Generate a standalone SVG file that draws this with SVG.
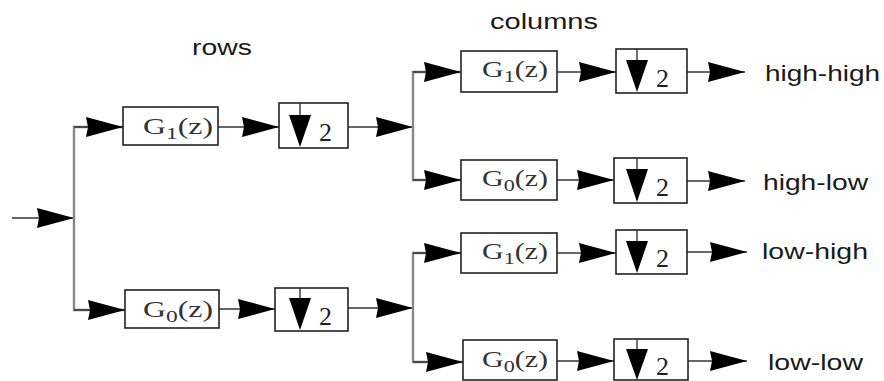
<svg xmlns="http://www.w3.org/2000/svg" width="884" height="381" viewBox="0 0 884 381">
<defs>
<style>
.box{fill:#fff;stroke:#222;stroke-width:1.6}
.ln{fill:none;stroke:#333;stroke-width:1.4}
.vl{fill:none;stroke:#888;stroke-width:2.4}
.head{fill:#000}
.g{font-family:"Liberation Serif","Times New Roman",serif;font-size:23px;fill:#333}
.two{font-family:"Liberation Serif","Times New Roman",serif;font-size:26px;fill:#222}
.lab{font-family:"Liberation Sans",Arial,sans-serif;font-size:22px;fill:#1a1a1a}
</style>
<marker id="ah" markerUnits="userSpaceOnUse" markerWidth="38" markerHeight="22" refX="37" refY="11" orient="auto">
<path class="head" d="M0,1 L37,11 L0,21 L2,11 z"/>
</marker>
</defs>
<rect width="884" height="381" fill="#fff"/>

<g id="labels">
<text class="lab" x="192" y="55" textLength="60" lengthAdjust="spacingAndGlyphs">rows</text>
<text class="lab" x="490" y="29" textLength="108" lengthAdjust="spacingAndGlyphs">columns</text>
</g>

<g id="connectors">
<line class="ln" x1="12" y1="218" x2="74" y2="218" marker-end="url(#ah)"/>
<polyline class="vl" points="123,127 74,127 74,310 125,310"/>
<line class="ln" x1="74" y1="127" x2="123" y2="127" marker-end="url(#ah)"/>
<line class="ln" x1="74" y1="310" x2="125" y2="310" marker-end="url(#ah)"/>
<line class="ln" x1="218" y1="127" x2="279" y2="127" marker-end="url(#ah)"/>
<line class="ln" x1="219" y1="309" x2="275" y2="309" marker-end="url(#ah)"/>
<line class="ln" x1="348" y1="127" x2="413" y2="127" marker-end="url(#ah)"/>
<line class="ln" x1="348" y1="308" x2="413" y2="308" marker-end="url(#ah)"/>
<polyline class="vl" points="461,72 413,72 413,180 461,180"/>
<polyline class="vl" points="461,253 413,253 413,362 463,362"/>
<line class="ln" x1="413" y1="72" x2="461" y2="72" marker-end="url(#ah)"/>
<line class="ln" x1="413" y1="180" x2="461" y2="180" marker-end="url(#ah)"/>
<line class="ln" x1="413" y1="253" x2="461" y2="253" marker-end="url(#ah)"/>
<line class="ln" x1="413" y1="362" x2="463" y2="362" marker-end="url(#ah)"/>
<line class="ln" x1="557" y1="72" x2="616" y2="72" marker-end="url(#ah)"/>
<line class="ln" x1="557" y1="180" x2="614" y2="180" marker-end="url(#ah)"/>
<line class="ln" x1="557" y1="253" x2="616" y2="253" marker-end="url(#ah)" stroke="#bbb"/>
<line class="ln" x1="557" y1="361" x2="614" y2="361" marker-end="url(#ah)"/>
<line class="ln" x1="687" y1="72" x2="745" y2="72" marker-end="url(#ah)"/>
<line class="ln" x1="687" y1="181" x2="745" y2="181" marker-end="url(#ah)"/>
<line class="ln" x1="687" y1="252" x2="747" y2="252" marker-end="url(#ah)"/>
<line class="ln" x1="688" y1="361" x2="747" y2="361" marker-end="url(#ah)"/>
</g>

<g id="row_g1">
<rect class="box" x="123" y="107" width="95" height="38"/>
<text class="g" x="143" y="134" textLength="70" lengthAdjust="spacingAndGlyphs">G<tspan font-size="17" dy="5">1</tspan><tspan dy="-5">(z)</tspan></text>
</g>
<g id="row_ds1">
<rect class="box" x="279" y="103" width="69" height="45"/>
<line class="ln" x1="300" y1="103" x2="300" y2="116"/>
<polygon class="head" points="289,115 311,115 300,147"/>
<text class="two" x="319" y="141">2</text>
</g>
<g id="row_g0">
<rect class="box" x="125" y="290" width="94" height="38"/>
<text class="g" x="143" y="317" textLength="70" lengthAdjust="spacingAndGlyphs">G<tspan font-size="17" dy="5">0</tspan><tspan dy="-5">(z)</tspan></text>
</g>
<g id="row_ds0">
<rect class="box" x="275" y="288" width="73" height="43"/>
<line class="ln" x1="300" y1="288" x2="300" y2="300"/>
<polygon class="head" points="289,298 311,298 300,330"/>
<text class="two" x="319" y="325">2</text>
</g>

<g id="hh_g1">
<rect class="box" x="461" y="51" width="96" height="41"/>
<text class="g" x="482" y="77" textLength="66" lengthAdjust="spacingAndGlyphs">G<tspan font-size="17" dy="5">1</tspan><tspan dy="-5">(z)</tspan></text>
</g>
<g id="hh_ds">
<rect class="box" x="616" y="49" width="71" height="44"/>
<line class="ln" x1="637" y1="49" x2="637" y2="62"/>
<polygon class="head" points="626,60 648,60 637,92"/>
<text class="two" x="656" y="87">2</text>
</g>
<text class="lab" x="765" y="81" textLength="115" lengthAdjust="spacingAndGlyphs">high-high</text>

<g id="hl_g0">
<rect class="box" x="461" y="160" width="96" height="40"/>
<text class="g" x="482" y="186" textLength="66" lengthAdjust="spacingAndGlyphs">G<tspan font-size="17" dy="5">0</tspan><tspan dy="-5">(z)</tspan></text>
</g>
<g id="hl_ds">
<rect class="box" x="614" y="158" width="73" height="45"/>
<line class="ln" x1="637" y1="158" x2="637" y2="171"/>
<polygon class="head" points="626,169 648,169 637,202"/>
<text class="two" x="656" y="196">2</text>
</g>
<text class="lab" x="763" y="190" textLength="105" lengthAdjust="spacingAndGlyphs">high-low</text>

<g id="lh_g1">
<rect class="box" x="461" y="233" width="96" height="40"/>
<text class="g" x="482" y="259" textLength="66" lengthAdjust="spacingAndGlyphs">G<tspan font-size="17" dy="5">1</tspan><tspan dy="-5">(z)</tspan></text>
</g>
<g id="lh_ds">
<rect class="box" x="616" y="230" width="71" height="44"/>
<line class="ln" x1="637" y1="230" x2="637" y2="243"/>
<polygon class="head" points="626,241 648,241 637,273"/>
<text class="two" x="656" y="267">2</text>
</g>
<text class="lab" x="762" y="259" textLength="106" lengthAdjust="spacingAndGlyphs">low-high</text>

<g id="ll_g0">
<rect class="box" x="463" y="340" width="94" height="40"/>
<text class="g" x="482" y="367" textLength="66" lengthAdjust="spacingAndGlyphs">G<tspan font-size="17" dy="5">0</tspan><tspan dy="-5">(z)</tspan></text>
</g>
<g id="ll_ds">
<rect class="box" x="614" y="339" width="74" height="41"/>
<line class="ln" x1="637" y1="339" x2="637" y2="351"/>
<polygon class="head" points="626,349 648,349 637,380"/>
<text class="two" x="656" y="375">2</text>
</g>
<text class="lab" x="768" y="370" textLength="95" lengthAdjust="spacingAndGlyphs">low-low</text>
</svg>
